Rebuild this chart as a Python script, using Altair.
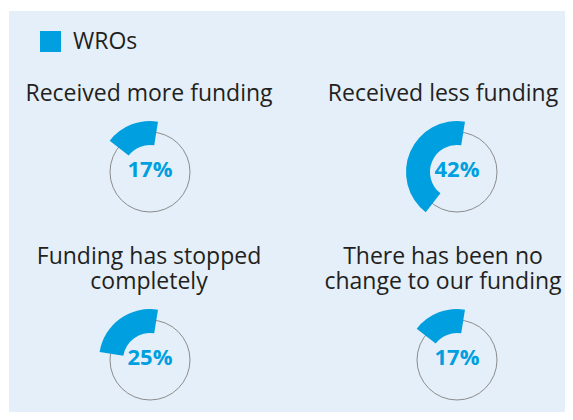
import math
import altair as alt
import pandas as pd

# ---- data ----
categories = [
    "Received more funding",
    "Received less funding",
    "Funding has stopped\ncompletely",
    "There has been no\nchange to our funding",
]
values = [0.17, 0.42, 0.25, 0.17]
series_name = "WROs"

BLUE = "#009fdf"
BG = "#e4eff9"
TEXT = "#231f20"
START_OFFSET = 0.025  # arcs start slightly clockwise of 12 o'clock
LINE_H = 25

df = pd.DataFrame({
    "category": categories,
    "value": values,
    "col": [i % 2 for i in range(len(categories))],
    "row": [i // 2 for i in range(len(categories))],
    "series": series_name,
})
df["t0"] = START_OFFSET - df["value"]
df["t1"] = START_OFFSET
# split titles: last line sits at a fixed place, earlier line above it
df["upper"] = df["category"].apply(lambda s: "\n".join(s.split("\n")[:-1]))
df["last"] = df["category"].apply(lambda s: s.split("\n")[-1])

x = alt.X("col:Q", axis=None,
          scale=alt.Scale(domain=[-0.45928, 1.35179], nice=False, zero=False))
x_title = alt.X("col:Q", axis=None,
                scale=alt.Scale(domain=[-0.47619, 1.41497], nice=False, zero=False))
y = alt.Y("row:Q", axis=None,
          scale=alt.Scale(domain=[-0.85638, 1.27660], nice=False, zero=False, reverse=True))

base = alt.Chart(df).encode(x=x, y=y)

ring = base.mark_point(shape="circle", size=6400, filled=False,
                       stroke="#8c8c8c", strokeWidth=1, opacity=1)

arc = base.mark_arc(radius=51, radius2=27).encode(
    theta=alt.Theta("t0:Q", stack=None,
                    scale=alt.Scale(domain=[0, 1], range=[0, 2 * math.pi])),
    theta2="t1:Q",
    color=alt.Color("series:N",
                    scale=alt.Scale(domain=[series_name], range=[BLUE]),
                    legend=alt.Legend(title=None, orient="none", legendX=30, legendY=19,
                                      symbolType="square", symbolSize=441,
                                      symbolStrokeWidth=0,
                                      labelFontSize=23, labelFont="Open Sans",
                                      labelColor=TEXT, labelOffset=11, padding=0)),
)

title_style = dict(font="Open Sans", fontSize=23, color=TEXT, baseline="alphabetic")
title_base = alt.Chart(df).encode(x=x_title, y=y)
title_last = title_base.mark_text(dy=-71, **title_style).encode(text="last:N")
title_upper = title_base.mark_text(dy=-71 - LINE_H, **title_style).encode(text="upper:N")

pct = base.mark_text(font="Open Sans", fontWeight="bold", fontSize=22,
                     color=BLUE, dy=-2).encode(text=alt.Text("value:Q", format=".0%"))

chart = alt.layer(ring, arc, title_upper, title_last, pct).resolve_scale(x="independent").properties(
    width=556, height=401,
    padding={"top": 3, "left": 1, "right": 0, "bottom": 0},
    background="white",
).configure_view(fill=BG, stroke=None)

chart.save("out.html", embed_options={"renderer": "svg", "actions": False})
